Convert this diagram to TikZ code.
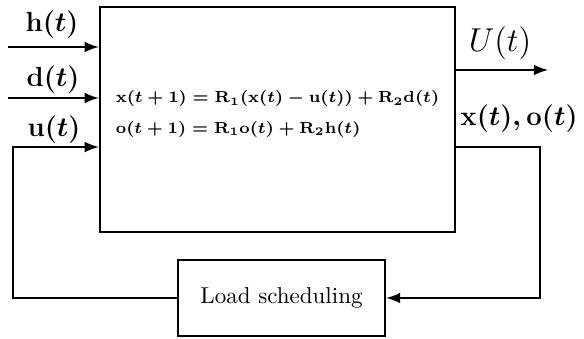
\documentclass[tikz,border=0pt]{standalone}
\usepackage{amsmath,amssymb}
\usetikzlibrary{arrows}

\begin{document}
\begin{tikzpicture} [x = 0.435pt, y = -0.435pt, >=latex, line width = 1.1pt]
	\tikzset{block/.style = {draw, inner sep = 0pt},
		sig/.style = {font = \large\boldmath}}
	\useasboundingbox (0,0) rectangle (584,339);

	% system and scheduler
	\node [block, minimum width = 154.4pt, minimum height = 97.9pt] (plant) at (277.5,119.5) {};
	\node [align = left, font = \fontsize{7.45}{9}\selectfont\boldmath] (eqs) at (277.5,114)
		{$\mathbf{x}(t+1) = \mathbf{R}_1(\mathbf{x}(t) - \mathbf{u}(t)) + \mathbf{R}_2\mathbf{d}(t)$\\[4.2pt]
		 $\mathbf{o}(t+1) = \mathbf{R}_1\mathbf{o}(t) + \mathbf{R}_2\mathbf{h}(t)$};
	\node [block, minimum width = 90pt, minimum height = 33pt] (sched) at (281.5,298) {Load scheduling};

	% inputs
	\coordinate (hin) at (8,47);
	\coordinate (din) at (8,98);
	\coordinate (uin) at (13,147);
	\draw [->] (hin) -- (hin -| plant.west);
	\draw [->] (din) -- (din -| plant.west);
	\node [sig] (hlab) at (52,25) {$\mathbf{h}(t)$};
	\node [sig] (dlab) at (53,80) {$\mathbf{d}(t)$};
	\node [sig] (ulab) at (54,130) {$\mathbf{u}(t)$};

	% outputs
	\coordinate (Uout) at (548,70);
	\coordinate (xout) at (540,147);
	\draw [->] (Uout -| plant.east) -- (Uout);
	\node [font = \fontsize{13.5}{16}\selectfont] (Ulab) at (500,43) {$U(t)$};
	\node [sig] (xlab) at (519,119) {$\mathbf{x}(t), \mathbf{o}(t)$};

	% feedback loop
	\draw [->] (xout -| plant.east) -- (xout) |- (sched.east);
	\draw [->] (sched.west) -| (uin) -- (uin -| plant.west);
\end{tikzpicture}
\end{document}
